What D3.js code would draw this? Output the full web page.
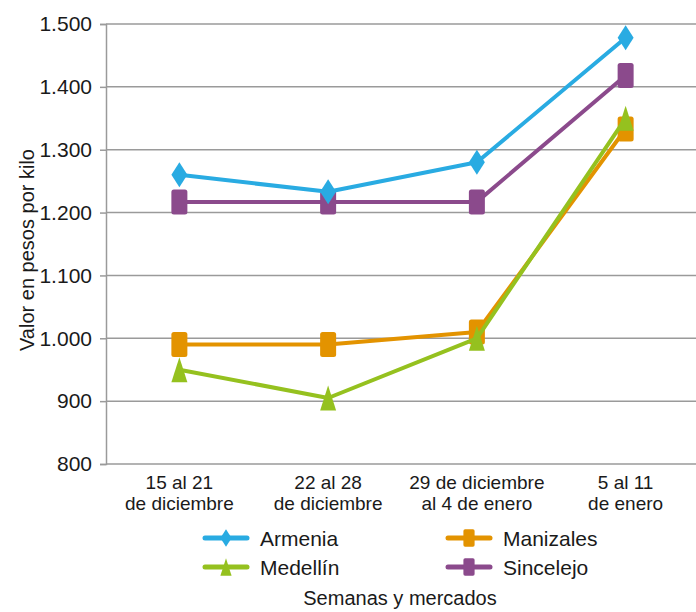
<!DOCTYPE html>
<html><head><meta charset="utf-8">
<script src="https://cdn.jsdelivr.net/npm/d3@7"></script>
<style>body{margin:0;background:#fff}svg{display:block}text{font-family:"Liberation Sans","DejaVu Sans",sans-serif;fill:#1a1a1a}</style>
</head><body><svg id="c" width="696" height="612"></svg>
<script>
const categories = [["15 al 21","de diciembre"],["22 al 28","de diciembre"],["29 de diciembre","al 4 de enero"],["5 al 11","de enero"]];
const armenia = [1260, 1233, 1280, 1478];
const manizales = [990, 990, 1010, 1333];
const medellin = [950, 905, 1000, 1350];
const sincelejo = [1217, 1217, 1217, 1418];
const yTicks = [800, 900, 1000, 1100, 1200, 1300, 1400, 1500];
const seriesNames = ["Armenia", "Manizales", "Medellín", "Sincelejo"];

const series = [
  {name: seriesNames[0], values: armenia, color: "#29abe2", shape: "diamond"},
  {name: seriesNames[1], values: manizales, color: "#e39300", shape: "square"},
  {name: seriesNames[2], values: medellin, color: "#95c11f", shape: "triangle"},
  {name: seriesNames[3], values: sincelejo, color: "#8b4a8c", shape: "square"}
];
const drawOrder = [series[3], series[0], series[1], series[2]];

const svg = d3.select("#c");
const m = {l: 106, t: 24, r: 700, b: 464};
const x = d3.scaleBand().domain(d3.range(categories.length)).range([m.l - 1, m.r]);
const y = d3.scaleLinear().domain([800, 1500]).range([m.b, m.t]);
const fmt = v => d3.format(",")(v).replace(/,/g, ".");

// gridlines
svg.append("g").selectAll("line").data(yTicks.filter(v => v > 800)).join("line")
  .attr("x1", m.l).attr("x2", 696).attr("y1", d => y(d)).attr("y2", d => y(d))
  .attr("stroke", "#9a9a9a").attr("stroke-width", 1.5);

const yAxis = svg.append("g").attr("transform", `translate(${m.l},0)`)
  .call(d3.axisLeft(y).tickValues(yTicks).tickFormat(fmt).tickSize(6).tickPadding(8));
yAxis.select(".domain").attr("stroke", "#9a9a9a").attr("stroke-width", 1.5);
yAxis.selectAll(".tick line").attr("stroke", "#9a9a9a").attr("stroke-width", 1.5);
yAxis.selectAll(".tick text").attr("font-size", 21).attr("fill", "#1a1a1a").style("font-family", '"Liberation Sans",sans-serif');

svg.append("line").attr("x1", m.l).attr("x2", 696).attr("y1", m.b).attr("y2", m.b)
  .attr("stroke", "#9a9a9a").attr("stroke-width", 1.5);

// category labels
const cx = i => x(i) + x.bandwidth() / 2;
const cl = svg.append("g").selectAll("text").data(categories).join("text")
  .attr("x", (d, i) => cx(i)).attr("y", 489).attr("text-anchor", "middle").attr("font-size", 19);
cl.append("tspan").attr("x", (d, i) => cx(i)).text(d => d[0]);
cl.append("tspan").attr("x", (d, i) => cx(i)).attr("dy", 20.5).text(d => d[1]);

// y title
svg.append("text").attr("transform", "translate(34,250) rotate(-90)").attr("text-anchor", "middle")
  .attr("font-size", 20).text("Valor en pesos por kilo");

function marker(sel, shape, color) {
  const w = 8, h = 12.5;
  if (shape === "diamond") sel.append("path").attr("d", `M0,${-h}L${w},0L0,${h}L${-w},0Z`).attr("fill", color);
  else if (shape === "triangle") sel.append("path").attr("d", `M0,${-h}L${w},${h}L${-w},${h}Z`).attr("fill", color);
  else sel.append("rect").attr("x", -w).attr("y", -h).attr("width", 2 * w).attr("height", 2 * h).attr("rx", 2.5).attr("fill", color);
}

const line = d3.line().x((d, i) => cx(i)).y(d => y(d));
drawOrder.forEach(s => {
  const g = svg.append("g");
  g.append("path").attr("d", line(s.values)).attr("fill", "none").attr("stroke", s.color).attr("stroke-width", 4).attr("stroke-linejoin", "round");
  s.values.forEach((v, i) => {
    marker(g.append("g").attr("transform", `translate(${cx(i)},${y(v)})`), s.shape, s.color);
  });
});

// legend
const legPos = [[203, 538], [446, 538], [203, 567], [446, 567]];
series.forEach((s, i) => {
  const [lx, ly] = legPos[i];
  const g = svg.append("g");
  g.append("line").attr("x1", lx + 2).attr("x2", lx + 44).attr("y1", ly).attr("y2", ly)
    .attr("stroke", s.color).attr("stroke-width", 5).attr("stroke-linecap", "round");
  const mg = g.append("g").attr("transform", `translate(${lx + 23},${ly}) scale(0.7)`);
  marker(mg, s.shape, s.color);
  g.append("text").attr("x", lx + 57).attr("y", ly + 8).attr("font-size", 21).text(s.name);
});

svg.append("text").attr("x", 400).attr("y", 605).attr("text-anchor", "middle").attr("font-size", 20).text("Semanas y mercados");
</script></body></html>
